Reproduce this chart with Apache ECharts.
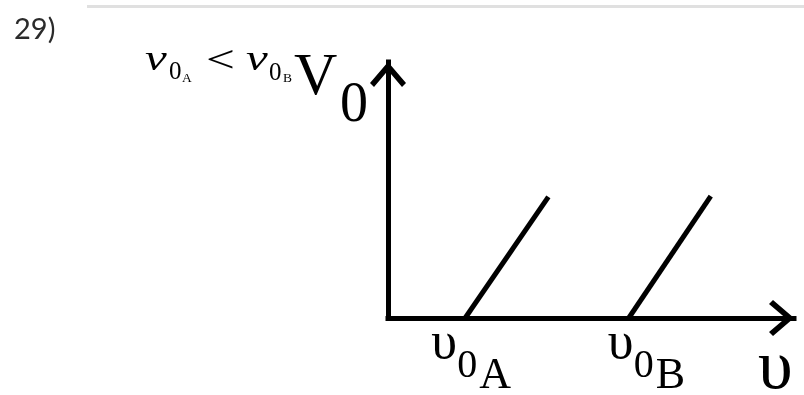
<!DOCTYPE html>
<html>
<head>
<meta charset="utf-8">
<script src="https://cdn.jsdelivr.net/npm/echarts@6/dist/echarts.min.js"></script>
<style>
  html, body { margin: 0; padding: 0; background: #fff; }
  #c { width: 804px; height: 395px; }
</style>
</head>
<body>
<div id="c"></div>
<script>
// Stopping potential V0 against frequency υ for two metals A and B.
const metals = ['A', 'B'];
const thresholdFreq = [19, 59.3];   // υ0 of each metal, where V0 leaves zero
const topFreq = [39.5, 79.5];       // frequency at the upper end of each line
const topPotential = [47.3, 47.6];  // V0 at the upper end of each line
const freqRange = [0, 100];
const potentialRange = [0, 100];
const questionNo = '29)';

const serif = 'Liberation Serif';
const chart = echarts.init(document.getElementById('c'), null, { renderer: 'canvas' });

// open chevron arrowhead, drawn pointing up and rotated by the axis
const arrowHead = 'path://M18,0 L36,21 L32,25 L18,8.5 L4,25 L0,21 Z';
const axisLine = {
  show: true,
  onZero: false,
  symbol: ['none', arrowHead],
  symbolSize: [36, 25],
  symbolOffset: [0, -12.5],
  lineStyle: { color: '#000', width: 5, cap: 'square' }
};

const series = metals.map((m, i) => ({
  name: m,
  type: 'line',
  symbol: 'none',
  silent: true,
  animation: false,
  lineStyle: { color: '#000', width: 5, cap: 'butt' },
  data: [[thresholdFreq[i], 0], [topFreq[i], topPotential[i]]]
}));

chart.setOption({
  animation: false,
  backgroundColor: '#fff',
  grid: { left: 388, top: 62, right: 10, bottom: 77, outerBoundsMode: 'none', containLabel: false },
  xAxis: {
    type: 'value', min: freqRange[0], max: freqRange[1],
    axisLine, axisTick: { show: false }, axisLabel: { show: false }, splitLine: { show: false }
  },
  yAxis: {
    type: 'value', min: potentialRange[0], max: potentialRange[1],
    axisLine, axisTick: { show: false }, axisLabel: { show: false }, splitLine: { show: false }
  },
  series
});

// text helper: x is the left edge, base is the baseline
function txt(x, base, text, size, opts) {
  opts = opts || {};
  const k = opts.k != null ? opts.k : 0.3375;
  const el = {
    type: 'text',
    x: x,
    y: base - k * size,
    silent: true,
    style: {
      text: text,
      fontFamily: opts.family || serif,
      fontSize: size,
      fontStyle: opts.italic ? 'italic' : 'normal',
      fontWeight: opts.weight || 'normal',
      fill: opts.fill || '#000',
      align: 'left',
      verticalAlign: 'middle'
    }
  };
  if (opts.scaleX) { el.scaleX = opts.scaleX; el.originX = 0; el.originY = 0; }
  return el;
}

const graphics = [];
// header rule and question number
graphics.push({
  type: 'line', silent: true,
  shape: { x1: 87, y1: 6.5, x2: 804, y2: 6.5 },
  style: { stroke: '#e0e0e0', lineWidth: 3 }
});
graphics.push(txt(14, 41, questionNo, 29, { family: 'Lato', k: 0.387, fill: '#2b2b2b' }));

// relation between the two thresholds, then the V0 axis title
graphics.push(txt(145, 73, 'v', 35, { italic: true, scaleX: 1.4 }));
graphics.push(txt(169, 81, '0', 25));
graphics.push(txt(182, 83, 'A', 13.5));
graphics.push(txt(206, 75, '<', 38, { scaleX: 1.35 }));
graphics.push(txt(246, 73, 'v', 35, { italic: true, scaleX: 1.4 }));
graphics.push(txt(269, 82, '0', 25));
graphics.push(txt(283, 83, 'B', 13.5));
graphics.push(txt(294, 98, 'V', 60));
graphics.push(txt(340, 125, '0', 56));

// threshold labels under the frequency axis
const nudge = [-6, 7];
metals.forEach((m, i) => {
  const p = chart.convertToPixel({ xAxisIndex: 0, yAxisIndex: 0 }, [thresholdFreq[i], 0]);
  const x0 = p[0] + nudge[i];
  graphics.push(txt(x0 - 28, 362, 'υ', 52));
  graphics.push(txt(x0 - 2, 380, '0', 40));
  graphics.push(txt(x0 + 20, 391, m, 44));
});

// frequency axis title near the arrow
const axisEnd = chart.convertToPixel({ xAxisIndex: 0, yAxisIndex: 0 }, [freqRange[1], 0]);
graphics.push(txt(axisEnd[0] - 36, 393, 'υ', 70));

chart.setOption({ graphic: graphics });
</script>
</body>
</html>
